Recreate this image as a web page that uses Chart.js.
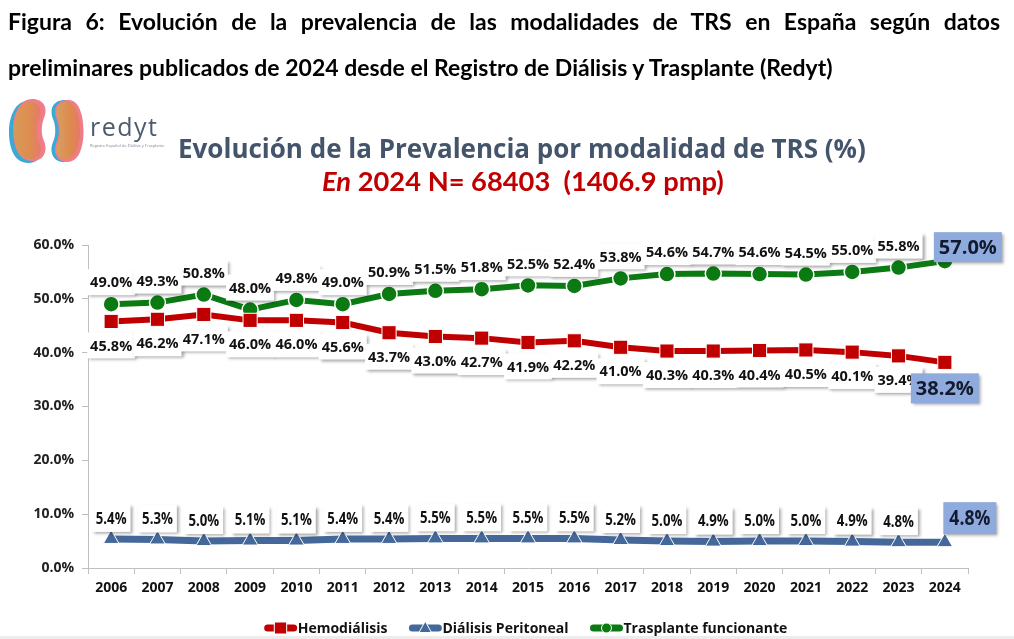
<!DOCTYPE html>
<html><head><meta charset="utf-8">
<script src="https://cdn.jsdelivr.net/npm/chart.js@4.4.1/dist/chart.umd.min.js"></script>
<style>
html,body{margin:0;padding:0;background:#fff;width:1014px;height:639px;overflow:hidden;}
#wrap{position:relative;width:1014px;height:639px;background:#fff;}
#c{position:absolute;left:0;top:0;}
.t{position:absolute;white-space:pre;line-height:1;}
#cap1{left:8px;width:992px;font-family:Lato,sans-serif;font-weight:700;color:#000;text-align:justify;text-align-last:justify;white-space:normal;}
#cap2{left:8px;font-family:Lato,sans-serif;font-weight:700;color:#000;}
#title{left:178px;font-family:"Open Sans",sans-serif;font-weight:700;color:#44546a;}
#sub{left:322px;font-family:Lato,sans-serif;font-weight:700;color:#c00000;}
#redyt{left:90px;top:114px;font-family:"Open Sans",sans-serif;font-size:25px;color:#4d5b70;letter-spacing:1.5px;}
#redsub{left:90px;top:144px;font-family:"Open Sans",sans-serif;font-size:4px;color:#7a8594;}
#logo{position:absolute;left:4px;top:96px;}
#strip{position:absolute;left:0;top:636px;width:1014px;height:3px;background:#ececec;}
</style></head>
<body><div id="wrap">
<canvas id="c" width="1014" height="639"></canvas>
<div class="t" id="cap1">Figura 6: Evolución de la prevalencia de las modalidades de TRS en España según datos</div>
<div class="t" id="cap2">preliminares publicados de 2024 desde el Registro de Diálisis y Trasplante (Redyt)</div>
<svg id="logo" width="90" height="72" viewBox="0 0 90 72">
<defs>
<linearGradient id="gl" x1="0" x2="1" y1="0" y2="0"><stop offset="0" stop-color="#d79a56"/><stop offset="0.6" stop-color="#de8c50"/><stop offset="1" stop-color="#e67a6c"/></linearGradient>
<linearGradient id="gr" x1="0" x2="1" y1="0" y2="0"><stop offset="0" stop-color="#d6a05c"/><stop offset="0.6" stop-color="#de8a4f"/><stop offset="1" stop-color="#e57868"/></linearGradient>
</defs>
<g>
<path transform="translate(-2,1)" fill="#3aaad5" d="M26 4C13 4 7 20 7 35C7 52 13 66 26 66C38 66 42 56 38 46C35 40 35 30 38 23C42 13 38 4 26 4Z"/>
<path transform="translate(2,-1)" fill="#ee7d88" d="M26 4C13 4 7 20 7 35C7 52 13 66 26 66C38 66 42 56 38 46C35 40 35 30 38 23C42 13 38 4 26 4Z"/>
<path fill="url(#gl)" d="M26 6C15 6 10 21 10 35C10 50 15 63 26 63C36 63 39 55 35 47C32 40 32 30 35 23C39 14 36 6 26 6Z"/>
</g>
<g>
<path transform="translate(-2,0)" fill="#3aaad5" d="M63 4C74 4 78 20 78 35C78 52 73 66 62 66C51 66 47 56 51 46C54 40 54 30 51 23C47 13 51 4 63 4Z"/>
<path transform="translate(1.5,0)" fill="#ee7d88" d="M63 4C74 4 78 20 78 35C78 52 73 66 62 66C51 66 47 56 51 46C54 40 54 30 51 23C47 13 51 4 63 4Z"/>
<path fill="url(#gr)" d="M63 6C72 6 76 21 76 35C76 50 71 63 62 63C53 63 50 55 54 47C57 40 57 30 54 23C50 14 53 6 63 6Z"/>
</g>
</svg>
<div class="t" id="redyt">redyt</div>
<div class="t" id="redsub">Registro Español de Diálisis y Trasplante</div>
<div class="t" id="title">Evolución de la Prevalencia por modalidad de TRS (%)</div>
<div class="t" id="sub"><i>En</i> 2024 N= 68403  (1406.9 pmp)</div>
<div id="strip"></div>
</div>
<script>
// ---- data ----
const years = ['2006','2007','2008','2009','2010','2011','2012','2013','2014','2015','2016','2017','2018','2019','2020','2021','2022','2023','2024'];
const hemodialisis = [45.8,46.2,47.1,46.0,46.0,45.6,43.7,43.0,42.7,41.9,42.2,41.0,40.3,40.3,40.4,40.5,40.1,39.4,38.2];
const dialisisPeritoneal = [5.4,5.3,5.0,5.1,5.1,5.4,5.4,5.5,5.5,5.5,5.5,5.2,5.0,4.9,5.0,5.0,4.9,4.8,4.8];
const trasplante = [49.0,49.3,50.8,48.0,49.8,49.0,50.9,51.5,51.8,52.5,52.4,53.8,54.6,54.7,54.6,54.5,55.0,55.8,57.0];
const seriesNames = ['Hemodiálisis','Diálisis Peritoneal','Trasplante funcionante'];
const yTicks = [0,10,20,30,40,50,60];

const RED = '#c00000', BLUE = '#44689a', GREEN = '#0c7a12';

// ---- fit html text ----
function fitFont(el, target){
  el.style.fontSize = '100px';
  el.style.display = 'inline-block';
  const w = el.getBoundingClientRect().width;
  const s = target / w * 100;
  el.style.fontSize = s + 'px';
  return s;
}
function setCenter(el, size, cy){ el.style.top = (cy - 0.53*size) + 'px'; }
const cap2 = document.getElementById('cap2');
const capSize = fitFont(cap2, 825);
setCenter(cap2, capSize, 68);
const cap1 = document.getElementById('cap1');
cap1.style.fontSize = capSize + 'px';
setCenter(cap1, capSize, 22);
const title = document.getElementById('title');
setCenter(title, fitFont(title, 688), 149);
const sub = document.getElementById('sub');
setCenter(sub, fitFont(sub, 402), 181);

// ---- fonts ----
const GOTH = '"Open Sans",sans-serif';

function drawMarker(ctx, style, x, y, r, color, bw){
  ctx.save();
  ctx.fillStyle = color; ctx.strokeStyle = '#fff'; ctx.lineWidth = bw;
  ctx.beginPath();
  if (style === 'rect'){ ctx.rect(x-r, y-r, 2*r, 2*r); }
  else if (style === 'triangle'){ ctx.moveTo(x, y-r*1.1); ctx.lineTo(x+r, y+r*0.75); ctx.lineTo(x-r, y+r*0.75); ctx.closePath(); }
  else { ctx.arc(x, y, r, 0, Math.PI*2); }
  ctx.fill(); if (bw) ctx.stroke();
  ctx.restore();
}

// sx: horizontal compression of the text (to imitate a condensed face)
function box(ctx, text, cx, cy, font, bg, padX, h, color, sx){
  sx = sx || 1;
  ctx.save();
  ctx.font = font;
  const tw = ctx.measureText(text).width * sx;
  const w = tw + padX*2;
  ctx.shadowColor = 'rgba(0,0,0,0.35)'; ctx.shadowBlur = 3; ctx.shadowOffsetX = 2; ctx.shadowOffsetY = 2;
  ctx.fillStyle = bg;
  ctx.fillRect(cx - w/2, cy - h/2, w, h);
  ctx.shadowColor = 'transparent';
  ctx.fillStyle = color || '#111';
  ctx.textAlign = 'center'; ctx.textBaseline = 'middle';
  ctx.translate(cx, cy + 1);
  ctx.scale(sx, 1);
  ctx.fillText(text, 0, 0);
  ctx.restore();
}

const labelPlugin = {
  id: 'labels',
  afterDatasetsDraw(chart){
    const ctx = chart.ctx;
    const cfg = [
      {ds: 2, dy: -22, font: 'bold 14.5px ' + GOTH, h: 26, pad: 3, sx: 1},
      {ds: 0, dy: 24, font: 'bold 14.5px ' + GOTH, h: 26, pad: 3, sx: 1},
      {ds: 1, dy: -21, font: 'bold 16.5px ' + GOTH, h: 28, pad: 4, sx: 0.8}
    ];
    const last = years.length - 1;
    cfg.forEach(c => {
      const meta = chart.getDatasetMeta(c.ds);
      const vals = chart.data.datasets[c.ds].data;
      meta.data.forEach((p, i) => {
        if (i === last) return;
        box(ctx, vals[i].toFixed(1) + '%', p.x, p.y + c.dy, c.font, '#fff', c.pad, c.h, '#111', c.sx);
      });
    });
    const hi = '#8faadc';
    const pT = chart.getDatasetMeta(2).data[last];
    box(ctx, trasplante[last].toFixed(1) + '%', pT.x + 23, pT.y - 14, 'bold 20px ' + GOTH, hi, 5, 30, '#111a2e');
    const pH = chart.getDatasetMeta(0).data[last];
    box(ctx, hemodialisis[last].toFixed(1) + '%', pH.x, pH.y + 26, 'bold 20px ' + GOTH, hi, 5, 30, '#111a2e');
    const pD = chart.getDatasetMeta(1).data[last];
    box(ctx, dialisisPeritoneal[last].toFixed(1) + '%', pD.x + 25, pD.y - 24, 'bold 22px ' + GOTH, hi, 6, 32, '#111a2e', 0.8);
  },
  afterDraw(chart){
    const ctx = chart.ctx;
    const items = [
      {t: seriesNames[0], c: RED, s: 'rect', r: 6},
      {t: seriesNames[1], c: BLUE, s: 'triangle', r: 6},
      {t: seriesNames[2], c: GREEN, s: 'circle', r: 5}
    ];
    ctx.save();
    ctx.font = 'bold 14px ' + GOTH;
    const mw = 32, gap = 1, sep = 22;
    let total = 0;
    items.forEach((it, k) => { it.w = ctx.measureText(it.t).width; total += mw + gap + it.w + (k ? sep : 0); });
    let x = 526 - total/2;
    const y = 628;
    items.forEach((it, k) => {
      if (k) x += sep;
      ctx.strokeStyle = it.c; ctx.lineWidth = 7; ctx.lineCap = 'round';
      ctx.beginPath(); ctx.moveTo(x + 3, y); ctx.lineTo(x + mw - 3, y); ctx.stroke();
      drawMarker(ctx, it.s, x + mw/2, y, it.r, it.c, 1);
      ctx.fillStyle = '#111'; ctx.textAlign = 'left'; ctx.textBaseline = 'middle';
      ctx.fillText(it.t, x + mw + gap, y + 1);
      x += mw + gap + it.w;
    });
    ctx.restore();
  }
};

new Chart(document.getElementById('c'), {
  type: 'line',
  data: {
    labels: years,
    datasets: [
      {label: seriesNames[0], data: hemodialisis, borderColor: RED, backgroundColor: RED, borderWidth: 6,
       pointStyle: 'rect', pointRadius: 10, pointBorderColor: '#fff', pointBorderWidth: 1, pointBackgroundColor: RED, tension: 0},
      {label: seriesNames[1], data: dialisisPeritoneal, borderColor: BLUE, backgroundColor: BLUE, borderWidth: 7,
       pointStyle: 'triangle', pointRadius: 9, pointBorderColor: '#fff', pointBorderWidth: 1, pointBackgroundColor: BLUE, tension: 0},
      {label: seriesNames[2], data: trasplante, borderColor: GREEN, backgroundColor: GREEN, borderWidth: 6,
       pointStyle: 'circle', pointRadius: 8, pointBorderColor: '#fff', pointBorderWidth: 1.5, pointBackgroundColor: GREEN, tension: 0}
    ]
  },
  options: {
    responsive: false, animation: false,
    layout: {padding: {top: 245, left: 0, right: 46, bottom: 31}},
    plugins: {legend: {display: false}, tooltip: {enabled: false}},
    scales: {
      x: {
        offset: true,
        grid: {offset: true, drawOnChartArea: false, drawTicks: true, tickLength: 6, color: '#bfbfbf'},
        border: {color: '#bfbfbf', width: 1},
        ticks: {font: {family: GOTH, size: 14, weight: 'bold'}, color: '#111', padding: 6, maxRotation: 0, autoSkip: false},
        afterFit: s => { s.height = 40; }
      },
      y: {
        min: 0, max: 60,
        afterBuildTicks: s => { s.ticks = yTicks.map(v => ({value: v})); },
        grid: {drawOnChartArea: false, drawTicks: true, tickLength: 6, color: '#bfbfbf'},
        border: {color: '#bfbfbf', width: 1},
        ticks: {font: {family: GOTH, size: 14, weight: 'bold'}, color: '#222', padding: 8,
                callback: v => Number(v).toFixed(1) + '%'},
        afterFit: s => { s.width = 88; }
      }
    }
  },
  plugins: [labelPlugin]
});
</script>
</body></html>
